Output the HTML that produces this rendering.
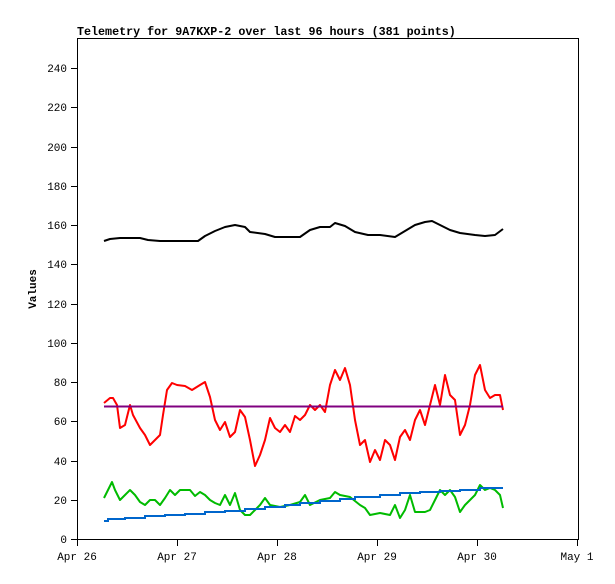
<!DOCTYPE html>
<html><head><meta charset="utf-8"><style>
html,body{margin:0;padding:0;background:#fff;}
svg text{font-family:"Liberation Mono","DejaVu Sans Mono",monospace;font-size:11px;fill:#000;}
</style></head><body>
<svg width="615" height="579" xmlns="http://www.w3.org/2000/svg">
<rect width="615" height="579" fill="#fff"/>
<text x="77" y="35" style="font-weight:bold;font-size:11.7px">Telemetry for 9A7KXP-2 over last 96 hours (381 points)</text>
<rect x="77.5" y="38.5" width="501" height="501" fill="none" stroke="#000" stroke-width="1"/>
<g stroke="#000" stroke-width="1">
<line x1="71" y1="539.5" x2="77" y2="539.5"/><line x1="71" y1="500.5" x2="77" y2="500.5"/>
<line x1="71" y1="461.5" x2="77" y2="461.5"/><line x1="71" y1="421.5" x2="77" y2="421.5"/>
<line x1="71" y1="382.5" x2="77" y2="382.5"/><line x1="71" y1="343.5" x2="77" y2="343.5"/>
<line x1="71" y1="304.5" x2="77" y2="304.5"/><line x1="71" y1="264.5" x2="77" y2="264.5"/>
<line x1="71" y1="225.5" x2="77" y2="225.5"/><line x1="71" y1="186.5" x2="77" y2="186.5"/>
<line x1="71" y1="147.5" x2="77" y2="147.5"/><line x1="71" y1="107.5" x2="77" y2="107.5"/>
<line x1="71" y1="68.5" x2="77" y2="68.5"/>
<line x1="77.5" y1="539" x2="77.5" y2="546"/><line x1="177.5" y1="539" x2="177.5" y2="546"/>
<line x1="277.5" y1="539" x2="277.5" y2="546"/><line x1="377.5" y1="539" x2="377.5" y2="546"/>
<line x1="477.5" y1="539" x2="477.5" y2="546"/><line x1="577.5" y1="539" x2="577.5" y2="546"/>
</g>
<g text-anchor="end">
<text x="67" y="543">0</text><text x="67" y="504">20</text><text x="67" y="465">40</text>
<text x="67" y="425">60</text><text x="67" y="386">80</text><text x="67" y="347">100</text>
<text x="67" y="308">120</text><text x="67" y="268">140</text><text x="67" y="229">160</text>
<text x="67" y="190">180</text><text x="67" y="151">200</text><text x="67" y="111">220</text>
<text x="67" y="72">240</text>
</g>
<g text-anchor="middle">
<text x="77" y="560">Apr 26</text><text x="177" y="560">Apr 27</text><text x="277" y="560">Apr 28</text>
<text x="377" y="560">Apr 29</text><text x="477" y="560">Apr 30</text><text x="577" y="560">May 1</text>
</g>
<text transform="translate(36,289) rotate(-90)" text-anchor="middle" style="font-weight:bold">Values</text>
<g fill="none" stroke-width="2" stroke-linejoin="round">
<polyline stroke="#000" points="104,241 110,239 120,238 140,238 148,240 160,241 198,241 205,236 215,231 225,227 235,225 245,227 250,232 265,234 275,237 300,237 310,230 320,227 330,227 335,223 345,226 355,232 368,235 380,235 395,237 405,231 415,225 425,222 432,221 440,225 450,230 460,233 475,235 485,236 495,235 503,229"/>
<polyline stroke="#f00" points="104,403 110,398 113,398 117,405 120,428 125,425 130,405 133,415 140,428 145,435 150,445 155,440 160,435 163,415 167,390 172,383 177,385 185,386 192,390 200,385 205,382 210,397 215,420 220,430 225,422 230,437 235,432 240,410 245,417 250,440 255,466 260,455 265,440 270,418 275,428 280,432 285,425 290,432 295,416 300,420 305,415 310,405 315,410 320,405 325,412 330,385 335,370 340,380 345,368 350,385 355,420 360,445 365,440 370,462 375,450 380,460 385,440 390,445 395,460 400,437 405,430 410,440 415,420 420,410 425,425 430,405 435,385 440,405 445,375 450,395 455,400 460,435 465,425 470,405 475,375 480,365 485,390 490,398 495,395 500,395 503,410"/>
<line stroke="#800080" x1="104" y1="406.5" x2="503" y2="406.5"/>
<polyline stroke="#0b0" points="104,498 108,490 112,482 115,490 120,500 125,495 130,490 135,495 140,502 145,505 150,500 155,500 160,505 165,498 170,490 175,495 180,490 190,490 195,496 200,492 205,495 210,500 215,503 220,505 225,495 230,505 235,493 240,510 245,515 250,515 255,510 260,505 265,498 270,505 280,507 290,505 300,502 305,495 310,505 320,500 330,498 335,492 340,495 350,497 360,505 365,508 370,515 380,513 390,515 395,505 400,518 405,510 410,495 415,512 425,512 430,510 435,500 440,490 445,495 450,490 455,497 460,512 465,505 470,500 475,495 480,485 485,490 490,488 495,490 500,495 503,508"/>
<polyline stroke="#06c" stroke-linejoin="miter" points="104,521 108,521 108,519 125,519 125,518 145,518 145,516 165,516 165,515 185,515 185,514 205,514 205,512 225,512 225,511 245,511 245,509 265,509 265,507 285,507 285,505 300,505 300,503 320,503 320,501 340,501 340,499 355,499 355,497 380,497 380,495 400,495 400,493 420,493 420,492 440,492 440,491 460,491 460,490 480,490 480,488 503,488"/>
</g>
</svg>
</body></html>
